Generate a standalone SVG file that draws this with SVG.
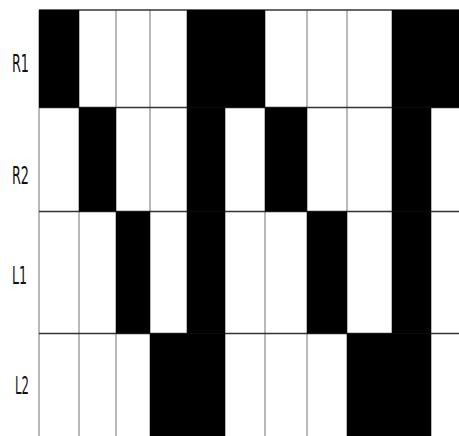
<svg xmlns="http://www.w3.org/2000/svg" width="459" height="436" viewBox="0 0 459 436">
<style>
.b{fill:#000}
.v{stroke:#8a8a8a;stroke-width:1.2}
.h{stroke:#333;stroke-width:1.5}
.t{font-family:"Liberation Sans Narrow","DejaVu Sans Condensed","Liberation Sans",sans-serif;font-size:24px;font-weight:normal;fill:#111}
</style>
<rect width="459" height="436" fill="#fff"/>
<g id="gridlines">
<line class="v" x1="39" y1="10" x2="39" y2="436"/>
<line class="v" x1="79" y1="10" x2="79" y2="436"/>
<line class="v" x1="116" y1="10" x2="116" y2="436"/>
<line class="v" x1="150" y1="10" x2="150" y2="436"/>
<line class="v" x1="187" y1="10" x2="187" y2="436"/>
<line class="v" x1="225" y1="10" x2="225" y2="436"/>
<line class="v" x1="265" y1="10" x2="265" y2="436"/>
<line class="v" x1="307" y1="10" x2="307" y2="436"/>
<line class="v" x1="347" y1="10" x2="347" y2="436"/>
<line class="v" x1="392" y1="10" x2="392" y2="436"/>
<line class="v" x1="431" y1="10" x2="431" y2="436"/>
<line class="h" x1="39" y1="10" x2="459" y2="10"/>
<line class="h" x1="39" y1="107.5" x2="459" y2="107.5"/>
<line class="h" x1="39" y1="211.5" x2="459" y2="211.5"/>
<line class="h" x1="39" y1="333.5" x2="459" y2="333.5"/>
</g>
<g id="R1">
<rect class="b" x="39" y="10" width="40" height="97.5"/>
<rect class="b" x="187" y="10" width="78" height="97.5"/>
<rect class="b" x="392" y="10" width="67" height="97.5"/>
<text class="t" x="12" y="72" textLength="17" lengthAdjust="spacingAndGlyphs">R1</text>
</g>
<g id="R2">
<rect class="b" x="79" y="107.5" width="37" height="104"/>
<rect class="b" x="187" y="107.5" width="38" height="104"/>
<rect class="b" x="265" y="107.5" width="42" height="104"/>
<rect class="b" x="392" y="107.5" width="39" height="104"/>
<text class="t" x="12" y="184" textLength="17" lengthAdjust="spacingAndGlyphs">R2</text>
</g>
<g id="L1">
<rect class="b" x="116" y="211.5" width="34" height="122"/>
<rect class="b" x="187" y="211.5" width="38" height="122"/>
<rect class="b" x="307" y="211.5" width="40" height="122"/>
<rect class="b" x="392" y="211.5" width="39" height="122"/>
<text class="t" x="12" y="284" textLength="15" lengthAdjust="spacingAndGlyphs">L1</text>
</g>
<g id="L2">
<rect class="b" x="150" y="333.5" width="75" height="102.5"/>
<rect class="b" x="347" y="333.5" width="84" height="102.5"/>
<text class="t" x="15" y="394" textLength="14" lengthAdjust="spacingAndGlyphs">L2</text>
</g>
</svg>
